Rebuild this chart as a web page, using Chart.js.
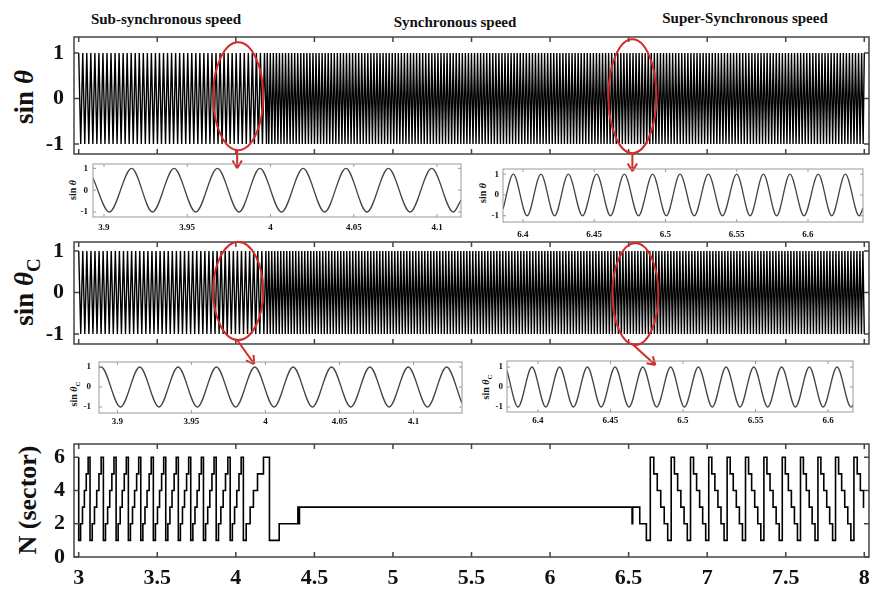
<!DOCTYPE html>
<html>
<head>
<meta charset="utf-8">
<script src="https://cdn.jsdelivr.net/npm/chart.js@4.4.0/dist/chart.umd.min.js"></script>
<style>
body{margin:0;background:#fff;}
#page{position:relative;width:872px;height:595px;overflow:hidden;font-family:"Liberation Serif","Times New Roman",serif;color:#111;}
.box{position:absolute;}
.ttl{position:absolute;font-weight:bold;font-size:15px;transform:translate(-50%,-50%);white-space:nowrap;}
.ylab{position:absolute;font-weight:bold;transform:translate(-50%,-50%) rotate(-90deg);white-space:nowrap;}
.ylab sub{font-size:70%;}
</style>
</head>
<body>
<div id="page">
  <div class="ttl" style="left:166px;top:19px;">Sub-synchronous speed</div>
  <div class="ttl" style="left:455px;top:22px;">Synchronous speed</div>
  <div class="ttl" style="left:745px;top:18px;">Super-Synchronous speed</div>

  <div class="ylab" style="left:24px;top:97px;font-size:27px;">sin <i>θ</i></div>
  <div class="ylab" style="left:27px;top:292px;font-size:27px;">sin <i>θ</i><sub>C</sub></div>
  <div class="ylab" style="left:28px;top:500px;font-size:26px;">N (sector)</div>
  <div class="ylab" style="left:72px;top:190px;font-size:10px;">sin <i>θ</i></div>
  <div class="ylab" style="left:482px;top:193px;font-size:10px;">sin <i>θ</i></div>
  <div class="ylab" style="left:75px;top:394px;font-size:10px;">sin <i>θ</i><sub>C</sub></div>
  <div class="ylab" style="left:487px;top:387px;font-size:10px;">sin <i>θ</i><sub>C</sub></div>

  <div class="box" style="left:0;top:0;width:872px;height:178px;"><canvas id="cA"></canvas></div>
  <div class="box" style="left:0;top:230px;width:872px;height:140px;"><canvas id="cB"></canvas></div>
  <div class="box" style="left:0;top:430px;width:872px;height:165px;"><canvas id="cC"></canvas></div>
  <div class="box" style="left:40px;top:158px;width:430px;height:80px;"><canvas id="i1"></canvas></div>
  <div class="box" style="left:460px;top:158px;width:412px;height:82px;"><canvas id="i2"></canvas></div>
  <div class="box" style="left:40px;top:350px;width:430px;height:80px;"><canvas id="i3"></canvas></div>
  <div class="box" style="left:460px;top:350px;width:412px;height:80px;"><canvas id="i4"></canvas></div>
</div>
<script>
// ---- values ----
// dense traces: oscillation period (s) per speed region
var waveSegStart = [3.0, 4.2];
var waveSegEnd = [4.2, 8.0];
var thetaPeriod = [0.0257, 0.0194];
var thetaCPeriod = [0.0259, 0.0191];

// inset sin(theta) around t = 4 s : extremum times and values
var inThetaLowX = [3.8934, 3.9032, 3.9166, 3.9291, 3.9421, 3.9551, 3.9681, 3.9811, 3.9936, 4.0066, 4.0196,
                   4.0325, 4.0453, 4.0579, 4.0708, 4.0838, 4.0968, 4.1098, 4.1144];
var inThetaLowY = [0.55, -1, 1, -1, 1, -1, 1, -1, 1, -1, 1, -1, 1, -1, 1, -1, 1, -1, -0.45];
// inset sin(theta) around t = 6.5 s
var inThetaHighX = [6.386, 6.3932, 6.4029, 6.4126, 6.4222, 6.4318, 6.4418, 6.4517, 6.4614, 6.4711, 6.4811,
                    6.4910, 6.5006, 6.5102, 6.5202, 6.5301, 6.5400, 6.5500, 6.5594, 6.5687, 6.5780, 6.5873,
                    6.5972, 6.6072, 6.6167, 6.6262, 6.6359, 6.6386];
var inThetaHighY = [-0.68, 1, -1, 1, -1, 1, -1, 1, -1, 1, -1, 1, -1, 1, -1, 1, -1, 1, -1, 1, -1, 1, -1, 1, -1,
                    1, -1, -0.63];
// inset sin(theta_C) around t = 4 s
var inThetaCLowX = [3.8876, 3.8890, 3.9021, 3.9151, 3.9281, 3.9410, 3.9540, 3.9669, 3.9799, 3.9928, 4.0058,
                    4.0187, 4.0317, 4.0446, 4.0576, 4.0705, 4.0835, 4.0964, 4.1094, 4.1223, 4.1327];
var inThetaCLowY = [0.97, 1, -1, 1, -1, 1, -1, 1, -1, 1, -1, 1, -1, 1, -1, 1, -1, 1, -1, 1, -0.81];
// inset sin(theta_C) around t = 6.5 s
var inThetaCHighX = [6.3787, 6.3863, 6.3959, 6.4054, 6.4149, 6.4245, 6.4341, 6.4436, 6.4532, 6.4628, 6.4723,
                     6.4819, 6.4915, 6.5010, 6.5106, 6.5202, 6.5297, 6.5393, 6.5488, 6.5584, 6.5680, 6.5775,
                     6.5871, 6.5966, 6.6062, 6.6158, 6.6172];
var inThetaCHighY = [0.81, -1, 1, -1, 1, -1, 1, -1, 1, -1, 1, -1, 1, -1, 1, -1, 1, -1, 1, -1, 1, -1, 1, -1, 1,
                     -1, -0.9];

// sector number N
var levelsUp = [1, 2, 3, 4, 5, 6];
var levelsDown = [6, 5, 4, 3, 2, 1];
var subCycleStart = [3.0, 3.072, 3.157, 3.238, 3.316, 3.395, 3.475, 3.554, 3.634, 3.713, 3.794, 3.875, 3.964];
var subCycleEnd = 4.048;
var midStepX = [4.048, 4.066, 4.091, 4.112, 4.138, 4.176, 4.214, 4.276, 4.395, 4.400, 4.405, 6.522, 6.526, 6.571, 6.613];
var midStepN = [1, 2, 3, 4, 5, 6, 1, 2, 3, 2, 3, 2, 3, 2, 1];
var superCycleStart = [6.638, 6.771, 6.894, 7.010, 7.127, 7.244, 7.361, 7.478, 7.594, 7.705, 7.817];
var superCycleEnd = 7.934;
var tailStepX = [7.934, 7.955, 7.975, 7.995, 8.0];
var tailStepN = [6, 5, 4, 3, 3];

// tick labels
var mainTicks = [3, 3.5, 4, 4.5, 5, 5.5, 6, 6.5, 7, 7.5, 8];
var sinTicks = [-1, 0, 1];
var sectorTicks = [0, 2, 4, 6];
var lowInsetTicks = [3.9, 3.95, 4, 4.05, 4.1];
var highInsetTicks = [6.4, 6.45, 6.5, 6.55, 6.6];

// ---- helpers ----
var serif = '"Liberation Serif", "Times New Roman", serif';

function buildWave(starts, ends, periods) {
	var pts = [];
	var up = true;
	for (var s = 0; s < starts.length; s++) {
		var half = periods[s] / 2;
		for (var x = starts[s]; x < ends[s] - 1e-9; x += half) {
			pts.push({x: x, y: up ? 1 : -1});
			up = !up;
		}
	}
	pts.push({x: ends[ends.length - 1], y: up ? 1 : -1});
	return pts;
}

function zipXY(xs, ys) {
	return xs.map(function(x, i) { return {x: x, y: ys[i]}; });
}

function buildSector() {
	var pts = [{x: subCycleStart[0], y: 6}];
	function addCycles(starts, end, levels) {
		for (var i = 0; i < starts.length; i++) {
			var s = starts[i];
			var e = i + 1 < starts.length ? starts[i + 1] : end;
			for (var k = 0; k < levels.length; k++) {
				pts.push({x: s + k * (e - s) / levels.length, y: levels[k]});
			}
		}
	}
	addCycles(subCycleStart, subCycleEnd, levelsUp);
	pts = pts.concat(zipXY(midStepX, midStepN));
	addCycles(superCycleStart, superCycleEnd, levelsDown);
	pts = pts.concat(zipXY(tailStepX, tailStepN));
	return pts;
}

var framePlugin = {
	id: 'frame',
	afterDatasetsDraw: function(chart, args, o) {
		var a = chart.chartArea, ctx = chart.ctx;
		ctx.save();
		ctx.strokeStyle = o.color;
		ctx.lineWidth = o.width;
		ctx.strokeRect(a.left, a.top, a.right - a.left, a.bottom - a.top);
		ctx.beginPath();
		(o.xTicks || []).forEach(function(v) {
			var px = chart.scales.x.getPixelForValue(v);
			ctx.moveTo(px, a.bottom); ctx.lineTo(px, a.bottom - o.tick);
			ctx.moveTo(px, a.top); ctx.lineTo(px, a.top + o.tick);
		});
		(o.yTicks || []).forEach(function(v) {
			var py = chart.scales.y.getPixelForValue(v);
			ctx.moveTo(a.left, py); ctx.lineTo(a.left + o.tick, py);
			ctx.moveTo(a.right, py); ctx.lineTo(a.right - o.tick, py);
		});
		ctx.stroke();
		ctx.restore();
	}
};

var ringPlugin = {
	id: 'rings',
	afterDraw: function(chart, args, o) {
		var ctx = chart.ctx;
		(o.items || []).forEach(function(r) {
			var cx = chart.scales.x.getPixelForValue(r.x);
			var cy = chart.scales.y.getPixelForValue(r.y);
			ctx.save();
			ctx.strokeStyle = '#d42a2a';
			ctx.lineWidth = 2;
			ctx.beginPath();
			ctx.ellipse(cx, cy, r.rx, r.ry, 0, 0, Math.PI * 2);
			ctx.stroke();
			var x1 = cx + r.from[0], y1 = cy + r.from[1], x2 = cx + r.to[0], y2 = cy + r.to[1];
			var ang = Math.atan2(y2 - y1, x2 - x1);
			ctx.beginPath();
			ctx.moveTo(x1, y1); ctx.lineTo(x2, y2);
			ctx.moveTo(x2, y2); ctx.lineTo(x2 - 9 * Math.cos(ang - 0.55), y2 - 9 * Math.sin(ang - 0.55));
			ctx.moveTo(x2, y2); ctx.lineTo(x2 - 9 * Math.cos(ang + 0.55), y2 - 9 * Math.sin(ang + 0.55));
			ctx.stroke();
			ctx.restore();
		});
	}
};

function makeChart(id, c) {
	var xScale = {
		type: 'linear', min: c.xMin, max: c.xMax, display: !!c.xLabels,
		grid: {display: false, drawTicks: false}, border: {display: false},
		ticks: {font: {family: serif, size: c.xFont || 22, weight: 'bold'}, color: '#111',
			padding: c.xPad || 6, maxRotation: 0, autoSkip: false,
			callback: function(v) { return String(v); }},
		afterBuildTicks: function(ax) { ax.ticks = (c.xLabels || []).map(function(v) { return {value: v}; }); },
		afterFit: function(ax) {
			if (c.xLabels) ax.height = c.xHeight;
			ax.paddingLeft = 0; ax.paddingRight = 0;
		}
	};
	var yScale = {
		type: 'linear', min: c.yMin, max: c.yMax,
		grid: {display: false, drawTicks: false}, border: {display: false},
		ticks: {font: {family: serif, size: c.yFont, weight: 'bold'}, color: '#111', padding: c.yPad,
			callback: function(v) { return String(v); }},
		afterBuildTicks: function(ax) { ax.ticks = c.yLabels.map(function(v) { return {value: v}; }); },
		afterFit: function(ax) { ax.width = c.yWidth; ax.paddingTop = 0; ax.paddingBottom = 0; }
	};
	return new Chart(document.getElementById(id), {
		type: 'line',
		data: {
			datasets: [{
				data: c.data,
				borderColor: c.color,
				borderWidth: c.lineWidth,
				pointRadius: 0,
				fill: false,
				stepped: !!c.stepped,
				cubicInterpolationMode: c.smooth ? 'monotone' : 'default',
				tension: 0
			}]
		},
		options: {
			responsive: true,
			maintainAspectRatio: false,
			animation: false,
			events: [],
			layout: {padding: c.padding},
			plugins: {
				legend: {display: false},
				tooltip: {enabled: false},
				frame: {color: c.frameColor, width: c.frameWidth, tick: c.tick, xTicks: c.xTicks, yTicks: c.yLabels},
				rings: {items: c.rings || []}
			},
			scales: {x: xScale, y: yScale}
		},
		plugins: [framePlugin, ringPlugin]
	});
}

// ---- main panels ----
makeChart('cA', {
	data: buildWave(waveSegStart, waveSegEnd, thetaPeriod), color: '#000', lineWidth: 1.4,
	xMin: 2.97, xMax: 8.03, yMin: -1.22, yMax: 1.35,
	xTicks: mainTicks, yLabels: sinTicks, yFont: 22, yPad: 10, yWidth: 74,
	padding: {top: 37, right: 3, bottom: 24, left: 0},
	frameColor: '#444', frameWidth: 1.5, tick: 5,
	rings: [
		{x: 4.015, y: 0.05, rx: 25, ry: 54, from: [-1, 54], to: [-1, 72]},
		{x: 6.524, y: 0.05, rx: 24, ry: 57, from: [0, 57], to: [0, 75]}
	]
});

makeChart('cB', {
	data: buildWave(waveSegStart, waveSegEnd, thetaCPeriod), color: '#000', lineWidth: 1.4,
	xMin: 2.97, xMax: 8.03, yMin: -1.24, yMax: 1.217,
	xTicks: mainTicks, yLabels: sinTicks, yFont: 22, yPad: 10, yWidth: 74,
	padding: {top: 12, right: 3, bottom: 26, left: 0},
	frameColor: '#444', frameWidth: 1.5, tick: 5,
	rings: [
		{x: 4.015, y: 0.036, rx: 25, ry: 49, from: [-1, 49], to: [16, 73]},
		{x: 6.543, y: -0.036, rx: 23, ry: 51, from: [-2, 51], to: [20, 71]}
	]
});

makeChart('cC', {
	data: buildSector(), color: '#000', lineWidth: 1.6, stepped: true,
	xMin: 2.97, xMax: 8.03, yMin: 0, yMax: 6.8,
	xTicks: mainTicks, xLabels: mainTicks, xFont: 22, xPad: 8, xHeight: 38,
	yLabels: sectorTicks, yFont: 22, yPad: 9, yWidth: 74,
	padding: {top: 14, right: 3, bottom: 0, left: 0},
	frameColor: '#444', frameWidth: 1.5, tick: 5
});

// ---- insets ----
makeChart('i1', {
	data: zipXY(inThetaLowX, inThetaLowY), color: '#444', lineWidth: 1.3, smooth: true,
	xMin: 3.8934, xMax: 4.1144, yMin: -1.23, yMax: 1.2,
	xTicks: lowInsetTicks, xLabels: lowInsetTicks, xFont: 9, xPad: 5, xHeight: 21,
	yLabels: sinTicks, yFont: 9, yPad: 5, yWidth: 53,
	padding: {top: 6, right: 9, bottom: 0, left: 0},
	frameColor: '#999', frameWidth: 1, tick: 3
});

makeChart('i2', {
	data: zipXY(inThetaHighX, inThetaHighY), color: '#444', lineWidth: 1.3, smooth: true,
	xMin: 6.386, xMax: 6.6386, yMin: -1.3, yMax: 1.25,
	xTicks: highInsetTicks, xLabels: highInsetTicks, xFont: 9, xPad: 7, xHeight: 18,
	yLabels: sinTicks, yFont: 9, yPad: 4, yWidth: 43,
	padding: {top: 11, right: 9, bottom: 0, left: 0},
	frameColor: '#999', frameWidth: 1, tick: 3
});

makeChart('i3', {
	data: zipXY(inThetaCLowX, inThetaCLowY), color: '#444', lineWidth: 1.3, smooth: true,
	xMin: 3.8876, xMax: 4.1327, yMin: -1.3, yMax: 1.25,
	xTicks: lowInsetTicks, xLabels: lowInsetTicks, xFont: 9, xPad: 3, xHeight: 17,
	yLabels: sinTicks, yFont: 9, yPad: 8, yWidth: 59,
	padding: {top: 12, right: 8, bottom: 0, left: 0},
	frameColor: '#999', frameWidth: 1, tick: 3
});

makeChart('i4', {
	data: zipXY(inThetaCHighX, inThetaCHighY), color: '#444', lineWidth: 1.3, smooth: true,
	xMin: 6.3787, xMax: 6.6172, yMin: -1.25, yMax: 1.3,
	xTicks: highInsetTicks, xLabels: highInsetTicks, xFont: 9, xPad: 3, xHeight: 18,
	yLabels: sinTicks, yFont: 9, yPad: 4, yWidth: 47,
	padding: {top: 11, right: 19, bottom: 0, left: 0},
	frameColor: '#999', frameWidth: 1, tick: 3
});
</script>
</body>
</html>
